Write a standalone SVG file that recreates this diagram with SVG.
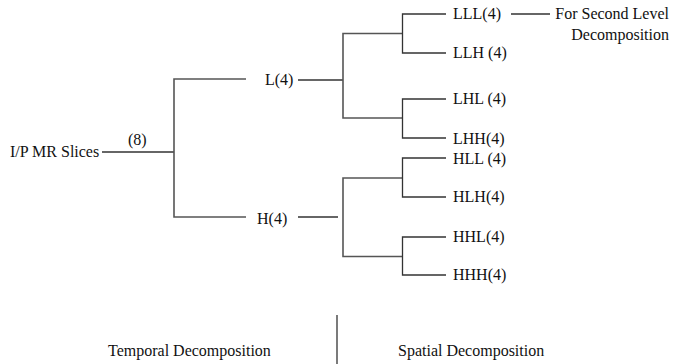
<svg xmlns="http://www.w3.org/2000/svg" width="688" height="364" viewBox="0 0 688 364">
<style>
text{font-family:"Liberation Serif","Times New Roman",serif;font-size:16px;fill:#111}
.c{fill:none;stroke:#333;stroke-width:1.3}
.g{fill:none;stroke:#555;stroke-width:1.6}
</style>
<rect width="688" height="364" fill="#fff"/>
<g id="connectors">
<path class="c" d="M102 152H174"/>
<path class="g" d="M246 79H174V217H246"/>
<path class="c" d="M298 80H343"/>
<path class="g" d="M402 33.5H343V118H402"/>
<path class="c" d="M298 217H338"/>
<path class="g" d="M402 178H343V256.5H402"/>
<path class="c" d="M446 14H402.5V53H446"/>
<path class="c" d="M446 99H402.5V138H446"/>
<path class="c" d="M446 158H402.5V197H446"/>
<path class="c" d="M446 237H402.5V275H446"/>
<path class="c" d="M511 14H550"/>
<path class="c" d="M337 315V364"/>
</g>
<g id="input"><text x="10" y="157">I/P MR Slices</text><text x="128" y="145">(8)</text></g>
<g id="L"><text x="265" y="85">L(4)</text></g>
<g id="H"><text x="257" y="224">H(4)</text></g>
<g id="LLL"><text x="453" y="19">LLL(4)</text></g>
<g id="LLH"><text x="453" y="58">LLH (4)</text></g>
<g id="LHL"><text x="453" y="104">LHL (4)</text></g>
<g id="LHH"><text x="453" y="144">LHH(4)</text></g>
<g id="HLL"><text x="453" y="164">HLL (4)</text></g>
<g id="HLH"><text x="453" y="202">HLH(4)</text></g>
<g id="HHL"><text x="453" y="242">HHL(4)</text></g>
<g id="HHH"><text x="453" y="280">HHH(4)</text></g>
<g id="next"><text x="669" y="19" text-anchor="end">For Second Level</text><text x="669" y="40" text-anchor="end">Decomposition</text></g>
<g id="temporal"><text x="108" y="356">Temporal Decomposition</text></g>
<g id="spatial"><text x="398" y="356">Spatial Decomposition</text></g>
</svg>
